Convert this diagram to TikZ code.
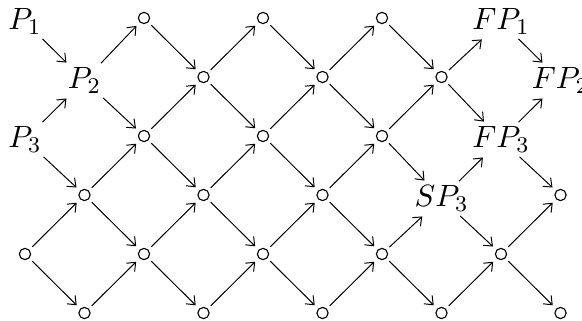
\documentclass[tikz,border=0pt]{standalone}
\usetikzlibrary{arrows.meta}
\tikzset{
  vtx/.style={circle, draw, inner sep=0pt, minimum size=4pt, line width=0.4pt, outer sep=1.6pt},
  lbl/.style={inner sep=1.4pt, font=\fontsize{11}{13}\selectfont},
  arr/.style={-{Straight Barb[length=2.6pt, width=4.2pt]}, line width=0.35pt, shorten >=0.3pt}
}
\begin{document}
\begin{tikzpicture}[x=0.74375cm, y=-0.7375cm]
  \useasboundingbox (-0.42,-0.305) rectangle (9.361,5.119);
  % lattice points
  \foreach \i/\j in {2/0, 4/0, 6/0, 3/1, 5/1, 7/1, 2/2, 4/2, 6/2,
                     1/3, 3/3, 5/3, 9/3, 0/4, 2/4, 4/4, 6/4, 8/4,
                     1/5, 3/5, 5/5, 7/5, 9/5} {
    \node[vtx] (n-\i-\j) at (\i,\j) {};
  }
  % labelled points
  \foreach \i/\j/\txt in {0/0/P_1, 1/1/P_2, 0/2/P_3, 8/0/FP_1, 9/1/FP_2,
                          8/2/FP_3, 7/3/SP_3} {
    \node[lbl] (n-\i-\j) at (\i,\j+0.06) {$\txt$};
  }
  % arrows to the right
  \foreach \i in {0,...,8} {
    \foreach \j in {0,...,5} {
      \pgfmathtruncatemacro{\s}{\i+\j}
      \pgfmathtruncatemacro{\ii}{\i+1}
      \pgfmathtruncatemacro{\jd}{\j+1}
      \pgfmathtruncatemacro{\ju}{\j-1}
      \ifodd\s\else
        \ifnum\j>0 \draw[arr] (n-\i-\j) -- (n-\ii-\ju); \fi
        \ifnum\j<5 \draw[arr] (n-\i-\j) -- (n-\ii-\jd); \fi
      \fi
    }
  }
\end{tikzpicture}
\end{document}
